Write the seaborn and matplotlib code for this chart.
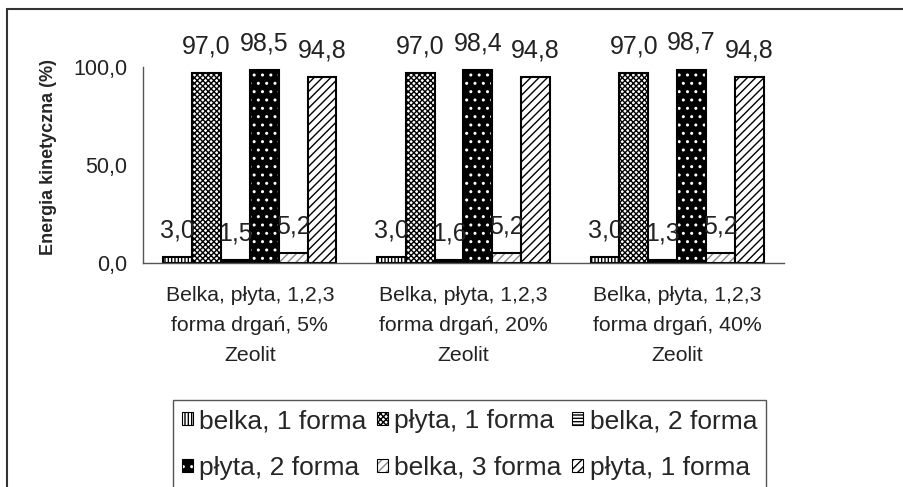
import pandas as pd
import numpy as np
import matplotlib.pyplot as plt
import matplotlib.patches as mpatches
import matplotlib.colors as mcolors
import seaborn as sns

# Wygląd: biały styl, czcionka zgodna z Arial
sns.set_style('white')
plt.rcParams['font.family'] = ['Liberation Sans', 'DejaVu Sans']
plt.rcParams['hatch.linewidth'] = 1.0

# Dane
grupy = ['Belka, płyta, 1,2,3\nforma drgań, 5%\nZeolit',
         'Belka, płyta, 1,2,3\nforma drgań, 20%\nZeolit',
         'Belka, płyta, 1,2,3\nforma drgań, 40%\nZeolit']
serie = ['belka, 1 forma', 'płyta, 1 forma', 'belka, 2 forma',
         'płyta, 2 forma', 'belka, 3 forma', 'płyta, 1 forma']
belka_1 = [3.0, 3.0, 3.0]
plyta_1 = [97.0, 97.0, 97.0]
belka_2 = [1.5, 1.6, 1.3]
plyta_2 = [98.5, 98.4, 98.7]
belka_3 = [5.2, 5.2, 5.2]
plyta_3 = [94.8, 94.8, 94.8]
wartosci = [belka_1, plyta_1, belka_2, plyta_2, belka_3, plyta_3]

# unikalne klucze dla hue (dwie serie mają tę samą nazwę)
klucze = [f's{i}' for i in range(len(serie))]
rows = []
for k, vals in zip(klucze, wartosci):
    for g, v in zip(grupy, vals):
        rows.append({'grupa': g, 'seria': k, 'wartosc': v})
df = pd.DataFrame(rows)

# styl wypełnienia: (kolor, hatch, kolor hatcha)
style = [('white', '|||||', 'black'),
         ('white', 'xxxxxx', 'black'),
         ('white', '-----', 'black'),
         ('black', '..', 'white'),
         ('white', '////', '#888888'),
         ('white', '////', 'black')]


def ustaw_wzor(p, fc, h, hc):
    p.set_facecolor(fc)
    p.set_hatch(h)
    # kolor wzoru niezależny od krawędzi
    if hasattr(p, 'set_hatchcolor'):
        p.set_hatchcolor(hc)
    else:
        p._hatch_color = mcolors.to_rgba(hc)
    p.stale = True


fig = plt.figure(figsize=(9.04, 4.87), dpi=100)
ax = fig.add_axes([143 / 904, 1 - 263 / 487, (784 - 143) / 904, (263 - 67) / 487])

sns.barplot(data=df, x='grupa', y='wartosc', hue='seria', hue_order=klucze,
            palette=['white'] * 6, width=0.81, gap=0, edgecolor='black',
            linewidth=1.5, legend=False, ax=ax, saturation=1)

for cont, (fc, h, hc), vals in zip(ax.containers, style, wartosci):
    for bar in cont:
        ustaw_wzor(bar, fc, h, hc)
    ax.bar_label(cont, labels=[f'{v:.1f}'.replace('.', ',') for v in vals],
                 padding=10.5, fontsize=18, color='#222222')

# osie
ax.set_ylim(0, 100)
ax.set_xlim(-0.5, 2.5)
ax.set_yticks([0, 50, 100])
ax.set_yticklabels(['0,0', '50,0', '100,0'])
ax.set_ylabel('Energia kinetyczna (%)', fontsize=13, fontweight='bold')
ax.yaxis.set_label_coords(-0.134, 0.54)
ax.set_xlabel('')
ax.set_xticks([-0.5, 0.5, 1.5, 2.5], minor=True)
ax.tick_params(axis='x', which='major', length=0, pad=16.5, labelsize=15.3)
for t in ax.get_xticklabels():
    t.set_linespacing(1.75)
ax.tick_params(axis='x', which='minor', length=6, width=1, color='#555555', direction='out')
ax.tick_params(axis='y', length=5, width=1, color='#555555', direction='out', labelsize=15.5, pad=6.5)
ax.tick_params(colors='#222222', which='major')
sns.despine(ax=ax)
for s in ['left', 'bottom']:
    ax.spines[s].set_color('#555555')
    ax.spines[s].set_linewidth(1.0)

# legenda w kolejności wierszami
uchwyty = []
for (fc, h, hc), nazwa in zip(style, serie):
    p = mpatches.Patch(facecolor=fc, hatch=h, edgecolor='black', label=nazwa, linewidth=0.8)
    ustaw_wzor(p, fc, h, hc)
    uchwyty.append(p)
kolejnosc = [0, 3, 1, 4, 2, 5]
leg = fig.legend([uchwyty[i] for i in kolejnosc], [serie[i] for i in kolejnosc],
                 loc='upper left', bbox_to_anchor=(173 / 904, 1 - 400 / 487), ncol=3,
                 fontsize=19, handlelength=0.4, handleheight=0.4, handletextpad=0.25,
                 columnspacing=0.4, labelspacing=0.85, borderpad=0.35, borderaxespad=0,
                 fancybox=False, framealpha=1, edgecolor='#555555')
leg.get_frame().set_linewidth(1.0)

# ramka wokół całego wykresu (ucięta z prawej i dołu)
ramka = mpatches.Rectangle((7 / 904, -0.5), 2, 0.5 + 1 - 9 / 487, transform=fig.transFigure,
                           fill=False, edgecolor='#333333', linewidth=1.5)
fig.add_artist(ramka)

fig.savefig('out.png', dpi=100)
